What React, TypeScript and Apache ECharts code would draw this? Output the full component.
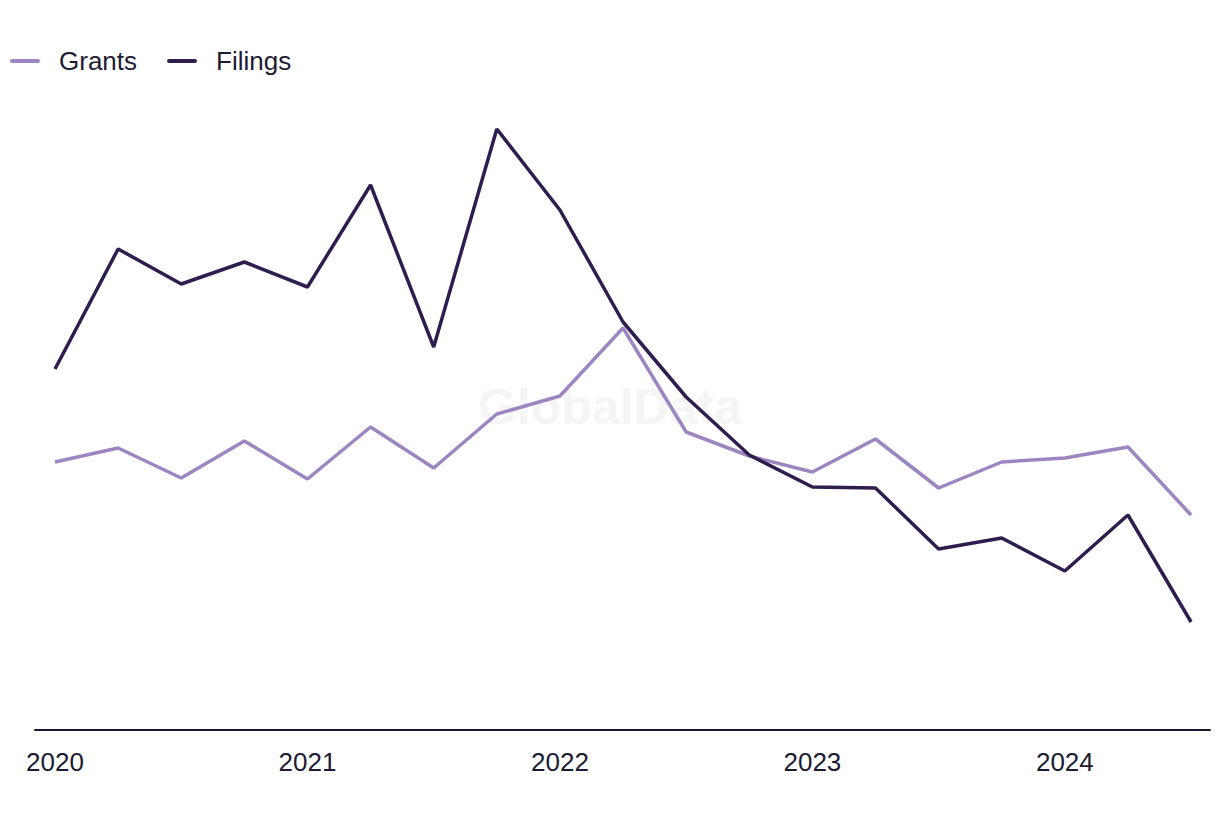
import React, { useEffect, useRef } from "react";
import * as echarts from "echarts";

const quarters = [
  "2020 Q1", "2020 Q2", "2020 Q3", "2020 Q4",
  "2021 Q1", "2021 Q2", "2021 Q3", "2021 Q4",
  "2022 Q1", "2022 Q2", "2022 Q3", "2022 Q4",
  "2023 Q1", "2023 Q2", "2023 Q3", "2023 Q4",
  "2024 Q1", "2024 Q2", "2024 Q3",
];
const yearTicks = [0, 4, 8, 12, 16];
const yearLabels = ["2020", "2021", "2022", "2023", "2024"];

const grants = [26.8, 28.2, 25.2, 28.9, 25.1, 30.3, 26.2, 31.6, 33.4, 40.2, 29.8, 27.4, 25.8, 29.1, 24.2, 26.8, 27.2, 28.3, 21.5];
const filings = [36.1, 48.1, 44.6, 46.8, 44.3, 54.5, 38.3, 60.1, 52.0, 40.8, 33.3, 27.5, 24.3, 24.2, 18.1, 19.2, 15.9, 21.5, 10.8];

const FONT = "Liberation Sans";
const TEXT = "#1d1b33";

export default function App() {
  const ref = useRef<HTMLDivElement>(null);
  useEffect(() => {
    if (!ref.current) return;
    const chart = echarts.init(ref.current, undefined, { renderer: "svg" });
    chart.setOption({
      animation: false,
      backgroundColor: "#ffffff",
      graphic: [
        {
          type: "text",
          left: "center",
          top: 382,
          z: 0,
          silent: true,
          style: {
            text: "GlobalData",
            font: `bold 50px ${FONT}`,
            fill: "#f5f5f5",
          },
        },
      ],
      legend: {
        left: 10,
        top: 48,
        padding: 0,
        itemWidth: 30,
        itemHeight: 4,
        itemGap: 30,
        icon: "path://M2,0 L28,0 A2,2 0 0 1 28,4 L2,4 A2,2 0 0 1 2,0 Z",
        textStyle: { fontFamily: FONT, fontSize: 26, color: TEXT, padding: [0, 0, 0, 14] },
        data: ["Grants", "Filings"],
      },
      grid: { left: 35, right: 10, top: 30, bottom: 90, containLabel: false },
      xAxis: {
        type: "value",
        min: -0.317,
        max: 18.3,
        splitLine: { show: false },
        axisTick: { show: false },
        axisLine: { show: true, onZero: false, lineStyle: { color: "#1a1a2e", width: 2 } },
        axisLabel: {
          customValues: yearTicks,
          formatter: (v: number) => yearLabels[yearTicks.indexOf(Math.round(v))] ?? "",
          fontFamily: FONT,
          fontSize: 26,
          color: TEXT,
          margin: 19,
        },
      },
      yAxis: {
        type: "value",
        min: 0,
        max: 70,
        show: false,
        splitLine: { show: false },
      },
      series: [
        {
          name: "Grants",
          type: "line",
          symbol: "none",
          data: grants.map((v, i) => [i, v]),
          itemStyle: { color: "#9d85c2" },
          lineStyle: { color: "#9d85c2", width: 3.5 },
          z: 3,
        },
        {
          name: "Filings",
          type: "line",
          symbol: "none",
          data: filings.map((v, i) => [i, v]),
          itemStyle: { color: "#2f1d50" },
          lineStyle: { color: "#2f1d50", width: 3.5 },
          z: 4,
        },
      ],
    });
    return () => chart.dispose();
  }, []);
  return (
    <div
      ref={ref}
      style={{ position: "fixed", left: 0, top: 0, width: 1220, height: 820 }}
      data-quarters={quarters.length}
    />
  );
}
